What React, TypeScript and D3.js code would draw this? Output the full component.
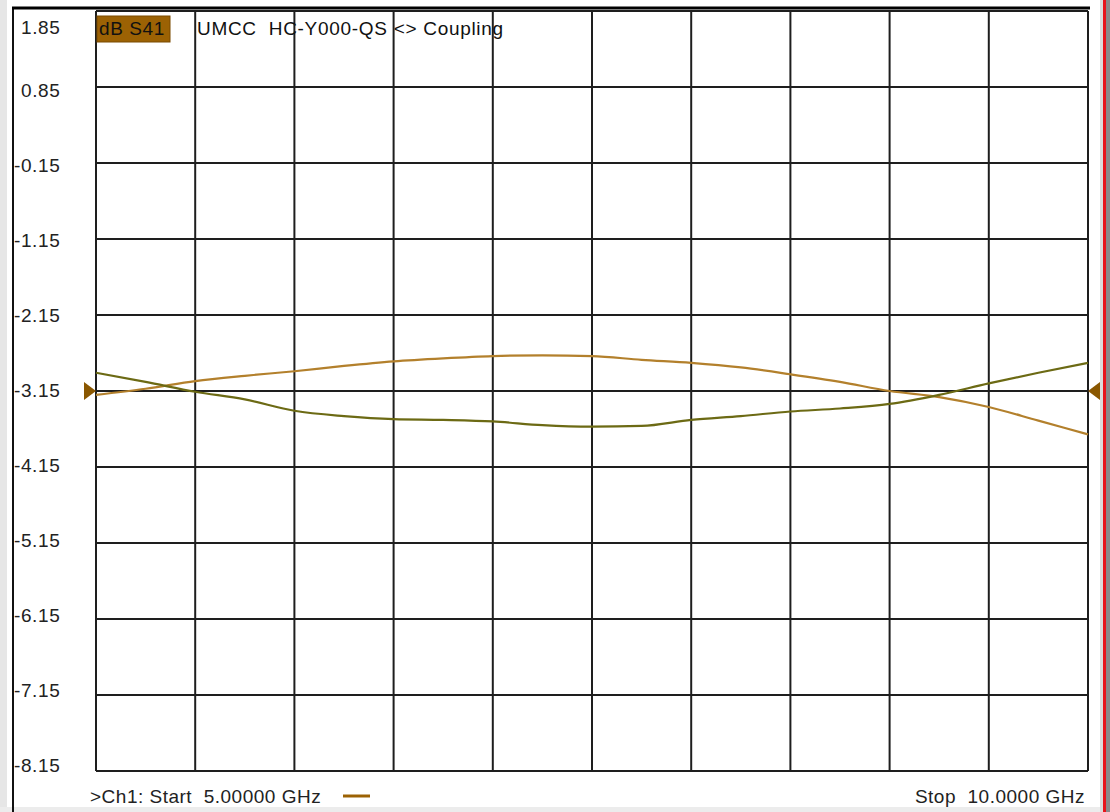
import React, { useEffect, useRef } from "react";
import * as d3 from "d3";

const W = 1110;
const H = 812;

// Frequencies (GHz)
const freqs = [5.0, 5.25, 5.5, 5.75, 6.0, 6.25, 6.5, 6.75, 7.0, 7.25, 7.5, 7.75, 8.0, 8.25, 8.5, 8.75, 9.0, 9.25, 9.5, 9.75, 10.0];
// Trace 1 (tan) dB
const trace1 = [-3.2, -3.12, -3.02, -2.95, -2.89, -2.82, -2.76, -2.72, -2.69, -2.68, -2.69, -2.74, -2.78, -2.84, -2.93, -3.03, -3.15, -3.23, -3.36, -3.54, -3.72];
// Trace 2 (olive) dB
const trace2 = [-2.91, -3.03, -3.16, -3.26, -3.41, -3.48, -3.52, -3.53, -3.55, -3.6, -3.62, -3.61, -3.53, -3.48, -3.42, -3.38, -3.32, -3.2, -3.05, -2.91, -2.78];
// Y tick values
const yTicks = [1.85, 0.85, -0.15, -1.15, -2.15, -3.15, -4.15, -5.15, -6.15, -7.15, -8.15];
const xDivisions = d3.range(0, 11).map((i) => 5 + i * 0.5);

const headerLabel = "dB S41";
const headerTitle = "UMCC  HC-Y000-QS <> Coupling";
const startLabel = ">Ch1: Start  5.00000 GHz";
const stopLabel = "Stop  10.0000 GHz";
const refLevel = -3.15;

const FONT = "'Liberation Sans', Arial, sans-serif";

export default function App() {
  const ref = useRef<SVGSVGElement>(null);

  useEffect(() => {
    const svg = d3.select(ref.current);
    svg.selectAll("*").remove();

    const left = 96, right = 1088, top = 11, bottom = 771;
    const x = d3.scaleLinear().domain([5, 10]).range([left, right]);
    const y = d3.scaleLinear().domain([1.85, -8.15]).range([top, bottom]);
    // label positions (display puts labels evenly but with slight drift)
    const yLab = d3.scaleLinear().domain([0.85, -8.15]).range([90, 765]);

    svg.append("rect").attr("width", W).attr("height", H).attr("fill", "#ffffff");
    // left grey strip
    svg.append("rect").attr("x", 0).attr("y", 0).attr("width", 7).attr("height", H).attr("fill", "#e6e6e6");
    // bottom grey strip
    svg.append("rect").attr("x", 0).attr("y", 807).attr("width", 1100).attr("height", 5).attr("fill", "#ececec");
    // right side strips
    svg.append("rect").attr("x", 1100).attr("y", 0).attr("width", 3).attr("height", H).attr("fill", "#dcdcdc");
    svg.append("rect").attr("x", 1103).attr("y", 0).attr("width", 3).attr("height", H).attr("fill", "#e8141c");
    svg.append("rect").attr("x", 1106).attr("y", 0).attr("width", 4).attr("height", H).attr("fill", "#8a8a8a");

    // frame lines
    svg.append("line").attr("x1", 13).attr("x2", 13).attr("y1", 7).attr("y2", H)
      .attr("stroke", "#111").attr("stroke-width", 2);
    svg.append("line").attr("x1", 12).attr("x2", 1090).attr("y1", 8).attr("y2", 8)
      .attr("stroke", "#000").attr("stroke-width", 3);

    // grid
    const g = svg.append("g");
    g.selectAll("line.h").data(yTicks).enter().append("line")
      .attr("x1", left).attr("x2", right)
      .attr("y1", (d) => y(d)).attr("y2", (d) => y(d))
      .attr("stroke", "#1e1e1e").attr("stroke-width", 2);
    g.selectAll("line.v").data(xDivisions).enter().append("line")
      .attr("x1", (d) => x(d)).attr("x2", (d) => x(d))
      .attr("y1", top).attr("y2", bottom)
      .attr("stroke", "#1e1e1e").attr("stroke-width", 2);

    // y labels
    svg.selectAll("text.yl").data(yTicks).enter().append("text")
      .attr("x", (d) => (d < 0 ? 14 : 21))
      .attr("y", (d, i) => (i === 0 ? 34 : yLab(d) + 7))
      .attr("font-family", FONT).attr("font-size", 19).attr("letter-spacing", 0.6)
      .attr("fill", "#222")
      .text((d) => (d < 0 ? "-" : "") + Math.abs(d).toFixed(2));

    // header
    svg.append("rect").attr("x", 97).attr("y", 16).attr("width", 73).attr("height", 26)
      .attr("fill", "#9c6204").attr("stroke", "#7a4a00").attr("stroke-width", 1);
    svg.append("text").attr("x", 99).attr("y", 35)
      .attr("font-family", FONT).attr("font-size", 19).attr("letter-spacing", 0.6)
      .attr("fill", "#111").text(headerLabel);
    svg.append("text").attr("x", 197).attr("y", 35)
      .style("white-space", "pre")
      .attr("font-family", FONT).attr("font-size", 19).attr("letter-spacing", 0.7)
      .attr("fill", "#111").text(headerTitle);

    // traces
    const line = d3.line<number>()
      .x((_, i) => x(freqs[i]))
      .y((d) => y(d))
      .curve(d3.curveMonotoneX);
    svg.append("path").datum(trace1).attr("d", line)
      .attr("fill", "none").attr("stroke", "#b3802c").attr("stroke-width", 2.2);
    svg.append("path").datum(trace2).attr("d", line)
      .attr("fill", "none").attr("stroke", "#6c6a14").attr("stroke-width", 2.2);

    // reference markers
    const ry = y(refLevel);
    svg.append("path")
      .attr("d", `M${left - 12},${ry - 9} L${left},${ry} L${left - 12},${ry + 9} Z`)
      .attr("fill", "#8a5700");
    svg.append("path")
      .attr("d", `M${right + 12},${ry - 9} L${right},${ry} L${right + 12},${ry + 9} Z`)
      .attr("fill", "#8a5700");

    // bottom annotations
    svg.append("text").attr("x", 90).attr("y", 803).style("white-space", "pre")
      .attr("font-family", FONT).attr("font-size", 19).attr("letter-spacing", 0.5)
      .attr("fill", "#222").text(startLabel);
    svg.append("line").attr("x1", 343).attr("x2", 370).attr("y1", 796).attr("y2", 796)
      .attr("stroke", "#9c6204").attr("stroke-width", 3);
    svg.append("text").attr("x", 1085).attr("y", 803).attr("text-anchor", "end")
      .style("white-space", "pre")
      .attr("font-family", FONT).attr("font-size", 19).attr("letter-spacing", 0.5)
      .attr("fill", "#222").text(stopLabel);
  }, []);

  return (
    <div style={{ position: "absolute", left: 0, top: 0 }}>
      <svg ref={ref} width={W} height={H} style={{ display: "block" }} />
    </div>
  );
}
